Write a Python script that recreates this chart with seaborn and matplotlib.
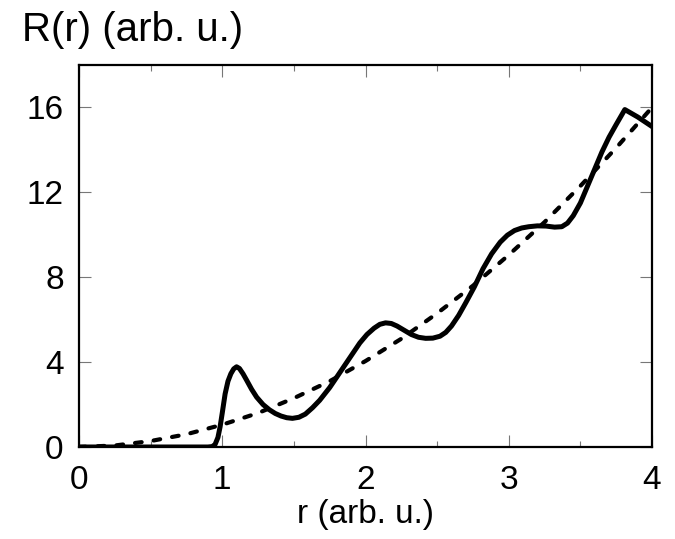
import numpy as np
import pandas as pd
import matplotlib
matplotlib.use('Agg')
import matplotlib.pyplot as plt
import seaborn as sns

# solid curve: R(r)
r_solid = [0, 0.5, 0.9, 0.93, 0.95, 0.97, 0.985, 1.0, 1.02, 1.04, 1.06, 1.08, 1.10, 1.12,
           1.145, 1.17, 1.205, 1.24, 1.285, 1.33, 1.37, 1.41, 1.45, 1.49, 1.535, 1.58,
           1.63, 1.68, 1.75, 1.82, 1.89, 1.96, 2.01, 2.06, 2.10, 2.14, 2.18, 2.22, 2.27,
           2.32, 2.37, 2.42, 2.47, 2.52, 2.56, 2.60, 2.65, 2.70, 2.76, 2.82, 2.88, 2.94,
           2.99, 3.04, 3.09, 3.14, 3.20, 3.26, 3.32, 3.37, 3.41, 3.45, 3.50, 3.55, 3.60,
           3.65, 3.70, 3.75, 3.81, 3.90, 4.0]
R_solid = [0, 0, 0, 0.02, 0.12, 0.45, 0.95, 1.6, 2.5, 3.1, 3.45, 3.68, 3.78, 3.7,
           3.45, 3.15, 2.72, 2.35, 2.0, 1.75, 1.58, 1.46, 1.38, 1.35, 1.4, 1.55,
           1.85, 2.2, 2.8, 3.5, 4.2, 4.9, 5.3, 5.6, 5.78, 5.85, 5.82, 5.7, 5.5,
           5.3, 5.17, 5.12, 5.13, 5.22, 5.4, 5.7, 6.2, 6.8, 7.55, 8.4, 9.1, 9.65,
           9.98, 10.2, 10.32, 10.38, 10.42, 10.41, 10.36, 10.38, 10.55, 10.9, 11.5, 12.3, 13.1,
           13.9, 14.6, 15.2, 15.9, 15.55, 15.1]

# dashed curve
r_dash = [0, 0.25, 0.5, 0.75, 1.0, 1.25, 1.5, 1.75, 2.0, 2.25, 2.5, 2.75, 3.0, 3.25, 3.5, 3.75, 4.0]
R_dash = [0, 0.07, 0.28, 0.6, 1.05, 1.6, 2.3, 3.1, 4.05, 5.1, 6.3, 7.6, 9.05, 10.6, 12.3, 14.1, 16.0]

x_ticks = [0, 1, 2, 3, 4]
y_ticks = [0, 4, 8, 12, 16]

sns.set_style("ticks")
plt.rcParams['font.family'] = ['Liberation Sans', 'DejaVu Sans']
plt.rcParams['text.color'] = 'black'
plt.rcParams['xtick.labelcolor'] = 'black'
plt.rcParams['ytick.labelcolor'] = 'black'
plt.rcParams['axes.labelcolor'] = 'black'

fig = plt.figure(figsize=(6.75, 5.39), dpi=100)
ax = fig.add_axes([0.117, 0.1707, 0.849, 0.7087])

sns.lineplot(x=r_dash, y=R_dash, ax=ax, color='black', lw=3.0, sort=False,
             linestyle=(0, (1.6, 2.9)), dash_capstyle='round')
sns.lineplot(x=r_solid, y=R_solid, ax=ax, color='black', lw=3.6, sort=False,
             solid_joinstyle='round')

ax.set_xlim(0, 4)
ax.set_ylim(0, 18)
ax.set_xticks(x_ticks)
ax.set_xticks([0.5, 1.5, 2.5, 3.5], minor=True)
ax.set_yticks(y_ticks)

for s in ax.spines.values():
    s.set_visible(True)
    s.set_linewidth(1.6)
    s.set_color('black')

ax.tick_params(which='both', direction='in', top=True, right=True, color='#777777', width=0.8)
ax.tick_params(which='major', length=8.5, labelsize=24)
ax.tick_params(which='minor', length=4)
ax.tick_params(axis='x', pad=13)
ax.tick_params(axis='y', pad=11)

ax.set_xlabel('r (arb. u.)', fontsize=24, labelpad=2)
ax.set_ylabel('')
fig.text(0.032, 0.91, 'R(r) (arb. u.)', fontsize=29, ha='left', va='bottom')

fig.savefig('out.png', dpi=100)
